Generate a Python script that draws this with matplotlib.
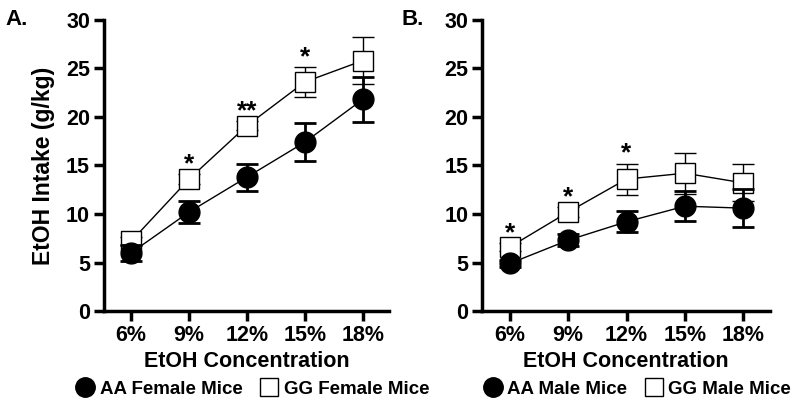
import matplotlib.pyplot as plt
from matplotlib.lines import Line2D

plt.rcParams['font.family'] = ['Liberation Sans', 'DejaVu Sans']
plt.rcParams['font.weight'] = 'bold'

conc = ['6%', '9%', '12%', '15%', '18%']

# panel A: females
aa_f = [6.0, 10.2, 13.8, 17.4, 21.8]
aa_f_sem = [0.8, 1.1, 1.4, 1.95, 2.3]
gg_f = [7.2, 13.6, 19.1, 23.6, 25.8]
gg_f_sem = [0.4, 0.5, 0.5, 1.5, 2.4]
stars_f = ['', '*', '**', '*', '']

# panel B: males
aa_m = [4.9, 7.3, 9.2, 10.8, 10.6]
aa_m_sem = [0.4, 0.65, 1.1, 1.55, 1.95]
gg_m = [6.6, 10.2, 13.6, 14.2, 13.2]
gg_m_sem = [0.4, 0.5, 1.6, 2.1, 1.9]
stars_m = ['*', '*', '*', '', '']

fig = plt.figure(figsize=(8, 4.05), dpi=100)
axA = fig.add_axes([0.13, 0.232, 0.356, 0.719])
axB = fig.add_axes([0.603, 0.232, 0.359, 0.719])


def panel(ax, aa, aa_sem, gg, gg_sem, stars, letter, letter_x, names, leg_x):
    x = range(len(conc))
    ax.errorbar(x, gg, yerr=gg_sem, fmt='none', ecolor='black', elinewidth=1,
                capsize=8, capthick=1, zorder=2)
    ax.plot(x, gg, color='black', lw=1, marker='s', ms=14, mfc='white',
            mec='black', mew=1, zorder=3)
    ax.errorbar(x, aa, yerr=aa_sem, fmt='none', ecolor='black', elinewidth=2,
                capsize=8, capthick=2, zorder=4)
    ax.plot(x, aa, color='black', lw=1, marker='o', ms=15, mfc='black',
            mec='black', zorder=5)
    for i, s in enumerate(stars):
        if s:
            ax.text(i, gg[i] + gg_sem[i] + 1.0, s, ha='center', va='center',
                    fontsize=19, fontweight='bold')
    ax.set_xlim(-0.47, 4.45)
    ax.set_ylim(0, 30)
    ax.set_yticks(range(0, 31, 5))
    ax.set_xticks(list(x))
    ax.set_xticklabels(conc)
    for s in ['top', 'right']:
        ax.spines[s].set_visible(False)
    for s in ['left', 'bottom']:
        ax.spines[s].set_linewidth(2.5)
    ax.tick_params(width=2.5, length=7, labelsize=15.5, pad=3)
    ax.set_xlabel('EtOH Concentration', fontsize=15.5, fontweight='bold', labelpad=4)
    ax.text(letter_x, 1.0, letter, transform=ax.transAxes, fontsize=16,
            fontweight='bold', ha='left', va='center')
    handles = [
        Line2D([], [], ls='none', marker='o', ms=14, mfc='black', mec='black'),
        Line2D([], [], ls='none', marker='s', ms=13, mfc='white', mec='black', mew=1),
    ]
    ax.legend(handles, names, loc='center', bbox_to_anchor=(leg_x, -0.268),
              ncol=2, frameon=False, fontsize=13.5, handletextpad=0.2,
              columnspacing=0.9, handlelength=1.1, borderpad=0)


panel(axA, aa_f, aa_f_sem, gg_f, gg_f_sem, stars_f, 'A.', -0.347,
      ['AA Female Mice', 'GG Female Mice'], 0.52)
panel(axB, aa_m, aa_m_sem, gg_m, gg_m_sem, stars_m, 'B.', -0.28,
      ['AA Male Mice', 'GG Male Mice'], 0.537)
axA.set_ylabel('EtOH Intake (g/kg)', fontsize=16.5, fontweight='bold', labelpad=8)

fig.savefig('out.png', dpi=100)
